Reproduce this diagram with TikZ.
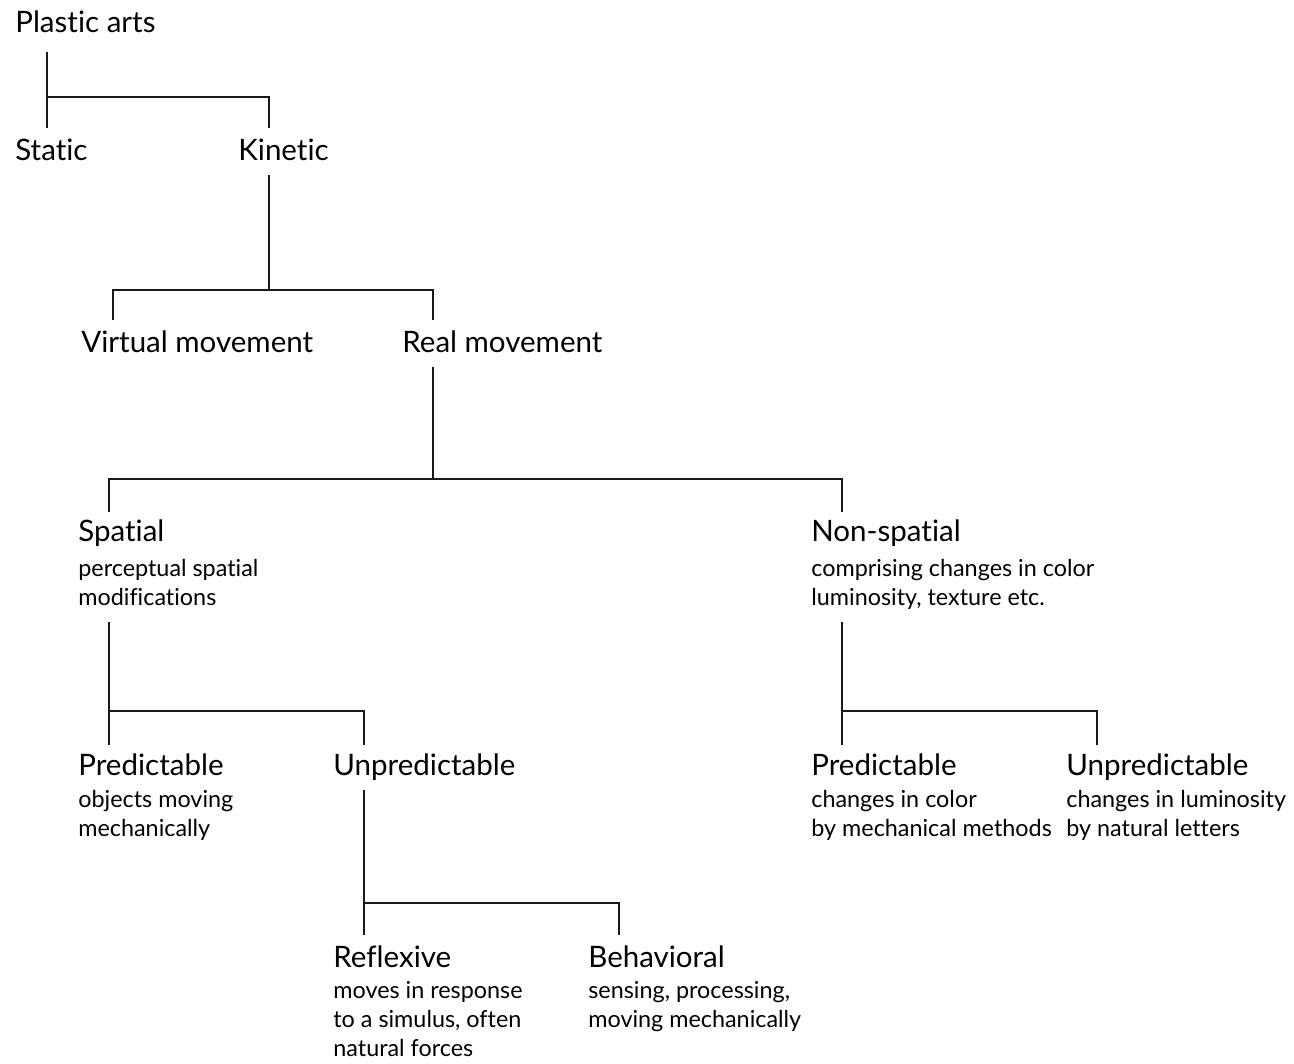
\documentclass[tikz,border=0pt]{standalone}
\usepackage{fontspec}
\setmainfont{Lato}[Ligatures=NoCommon]
\usetikzlibrary{positioning,calc}

\tikzset{
  title/.style={anchor=base west, inner sep=0pt, font=\fontsize{16.8}{19}\selectfont},
  desc/.style={anchor=north west, inner sep=0pt, align=left, font=\fontsize{13.3}{16.6}\selectfont},
  branch/.style={line width=1pt, black!90}
}

\begin{document}
\begin{tikzpicture}[x=0.02cm, y=-0.02cm]
    \useasboundingbox (0,0) rectangle (1294,1063);

    % titles
    \node[title] (plastic) at (15,32) {Plastic arts};
    \node[title] (static) at (15,160) {Static};
    \node[title] (kinetic) at (238,160) {Kinetic};
    \node[title] (virtual) at (81,352) {Virtual movement};
    \node[title] (real) at (402,352) {Real movement};
    \node[title] (spatial) at (78,541) {Spatial};
    \node[title] (nonspatial) at (811,541) {Non-spatial};
    \node[title] (pred) at (78,775) {Predictable};
    \node[title] (unpred) at (333,775) {Unpredictable};
    \node[title] (npred) at (811,775) {Predictable};
    \node[title] (nunpred) at (1066,775) {Unpredictable};
    \node[title] (reflex) at (333,967) {Reflexive};
    \node[title] (behav) at (588,967) {Behavioral};

    % descriptions
    \node[desc] (spatialtxt) at ($(spatial.base west)+(0,18)$) {perceptual spatial\\modifications};
    \node[desc] (nonspatialtxt) at ($(nonspatial.base west)+(0,18)$) {comprising changes in color\\luminosity, texture etc.};
    \node[desc] (predtxt) at ($(pred.base west)+(0,15)$) {objects moving\\mechanically};
    \node[desc] (npredtxt) at ($(npred.base west)+(0,15)$) {changes in color\\by mechanical methods};
    \node[desc] (nunpredtxt) at ($(nunpred.base west)+(0,15)$) {changes in luminosity\\by natural letters};
    \node[desc] (reflextxt) at ($(reflex.base west)+(0,14)$) {moves in response\\to a simulus, often\\natural forces};
    \node[desc] (behavtxt) at ($(behav.base west)+(0,14)$) {sensing, processing,\\moving mechanically};

    % branches
    \draw[branch] ($(plastic.base west)+(32,20)$) -- ($(static.base west)+(32,-32)$);
    \draw[branch] ($(static.base west)+(32,-63)$) -| ($(kinetic.base west)+(31,-32)$);

    \draw[branch] ($(kinetic.base west)+(31,15)$) -- ($(kinetic.base west)+(31,130)$);
    \draw[branch] ($(virtual.base west)+(32,-32)$) |- ($(kinetic.base west)+(31,130)$) -| ($(real.base west)+(31,-32)$);

    \draw[branch] ($(real.base west)+(31,15)$) -- ($(real.base west)+(31,127)$);
    \draw[branch] ($(spatial.base west)+(31,-29)$) |- ($(real.base west)+(31,127)$) -| ($(nonspatial.base west)+(31,-29)$);

    \draw[branch] ($(spatial.base west)+(31,81)$) |- ($(unpred.base west)+(31,-64)$) -- ($(unpred.base west)+(31,-30)$);
    \draw[branch] ($(pred.base west)+(31,-64)$) -- ($(pred.base west)+(31,-30)$);

    \draw[branch] ($(nonspatial.base west)+(31,81)$) |- ($(nunpred.base west)+(31,-64)$) -- ($(nunpred.base west)+(31,-30)$);
    \draw[branch] ($(npred.base west)+(31,-64)$) -- ($(npred.base west)+(31,-30)$);

    \draw[branch] ($(unpred.base west)+(31,15)$) |- ($(behav.base west)+(31,-64)$) -- ($(behav.base west)+(31,-32)$);
    \draw[branch] ($(reflex.base west)+(31,-64)$) -- ($(reflex.base west)+(31,-32)$);
\end{tikzpicture}
\end{document}
